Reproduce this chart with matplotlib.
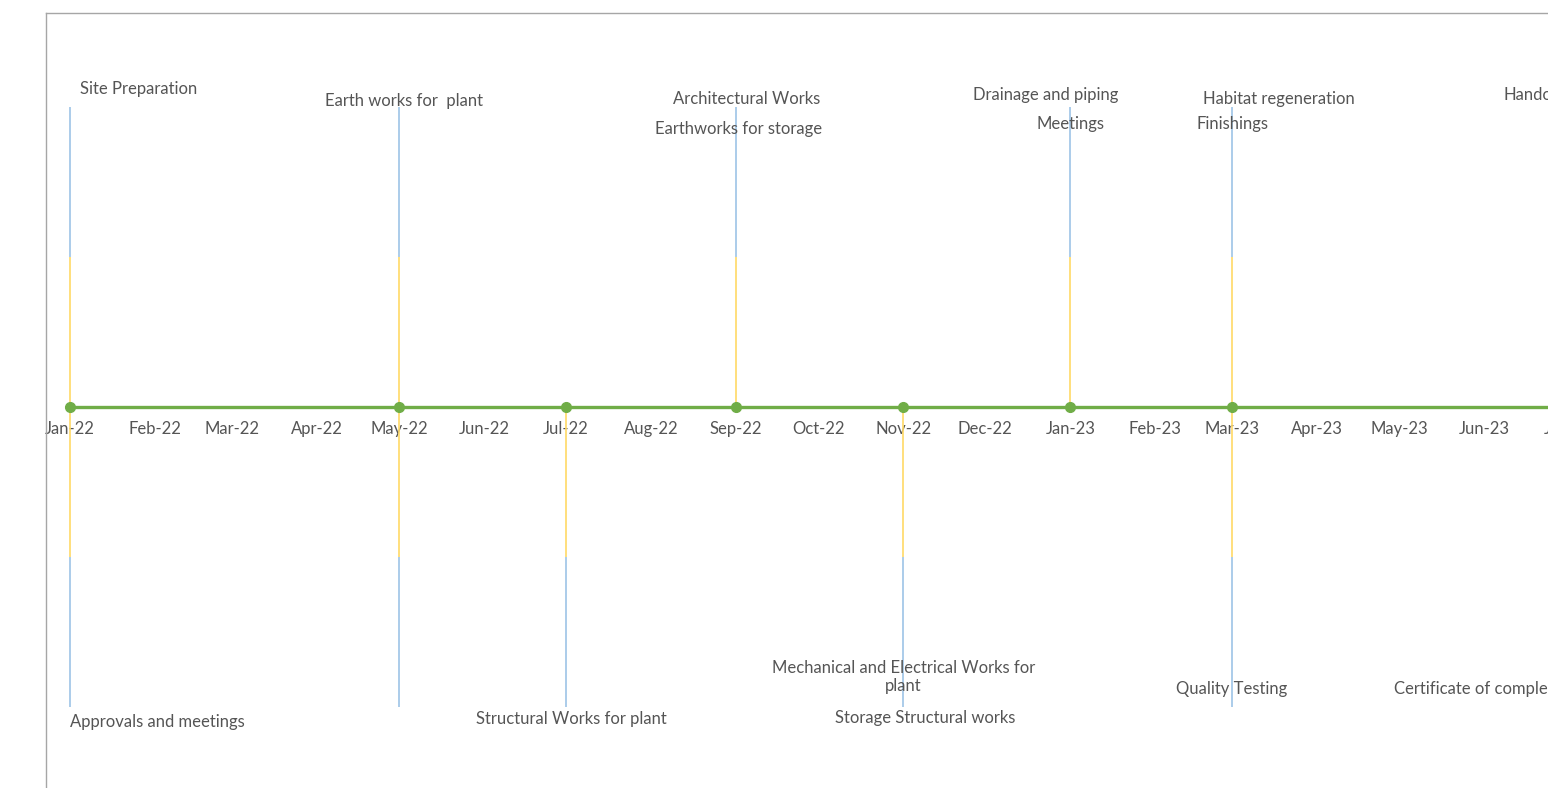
import datetime as dt
import matplotlib
matplotlib.use('Agg')
import matplotlib.pyplot as plt
import matplotlib.dates as mdates
from matplotlib.lines import Line2D

# milestones on the timeline (green dots)
milestones = ['2022-01-01', '2022-05-01', '2022-07-01', '2022-09-01',
              '2022-11-01', '2023-01-01', '2023-03-01']
# stems drawn above / below the axis
up_stems = ['2022-01-01', '2022-05-01', '2022-09-01', '2023-01-01', '2023-03-01']
down_stems = ['2022-01-01', '2022-05-01', '2022-07-01', '2022-11-01', '2023-03-01']
stem_height = 1.0

# month ticks Jan-22 .. Jul-23
months = [dt.datetime(2022 + (m // 12), m % 12 + 1, 1) for m in range(19)]

# activity labels: text, anchor date, height, alignment
labels = ['Site Preparation', 'Earth works for  plant', 'Architectural Works',
          'Earthworks for storage', 'Drainage and piping', 'Meetings',
          'Habitat regeneration', 'Finishings', 'Handover',
          'Approvals and meetings', 'Structural Works for plant',
          'Mechanical and Electrical Works for\nplant', 'Storage Structural works',
          'Quality Testing', 'Certificate of completion']
label_dates = ['2022-01-26', '2022-05-03', '2022-09-05', '2022-09-02',
               '2022-12-23', '2023-01-01', '2023-03-18', '2023-03-01',
               '2023-06-08', '2022-02-02', '2022-07-03', '2022-11-01',
               '2022-11-09', '2023-03-01', '2023-04-29']
label_heights = [1.06, 1.02, 1.027, 0.927, 1.04, 0.943, 1.027, 0.943, 1.04,
                 -1.05, -1.04, -0.9, -1.037, -0.94, -0.94]
label_align = ['center'] * 8 + ['left'] + ['center'] * 5 + ['left']


def d(s):
    return mdates.date2num(dt.datetime.strptime(s, '%Y-%m-%d'))


W, H = 1548, 788
px_per_day = 2.7406
x0 = 70      # pixel of Jan-22
y0 = 407     # pixel of the axis line
unit = 300.0 # pixels per y unit
wide = 1.1   # plot area runs past the right edge (cropped chart)

plt.rcParams['font.family'] = ['Lato', 'DejaVu Sans']
fig = plt.figure(figsize=(W / 100, H / 100), dpi=100)
ax = fig.add_axes([0, 0, wide, 1])

start = d('2022-01-01')
xmin = start - x0 / px_per_day
xmax = start + (W * wide - x0) / px_per_day

yellow = '#FFD966'
blue = '#9DC3E6'
green = '#70AD47'
txt = '#555555'

for s in up_stems:
    ax.vlines(d(s), 0, stem_height / 2, color=yellow, lw=1.2, zorder=2)
    ax.vlines(d(s), stem_height / 2, stem_height, color=blue, lw=1.2, zorder=2)
for s in down_stems:
    ax.vlines(d(s), -stem_height / 2, 0, color=yellow, lw=1.2, zorder=2)
    ax.vlines(d(s), -stem_height, -stem_height / 2, color=blue, lw=1.2, zorder=2)

# main axis line
ax.plot([start, xmax], [0, 0], color=green, lw=2.4, zorder=3)
ax.plot([d(m) for m in milestones], [0] * len(milestones), 'o',
        color=green, ms=7, zorder=4)

for t, ld, h, ha in zip(labels, label_dates, label_heights, label_align):
    ax.text(d(ld), h, t, ha=ha, va='center', fontsize=12, color=txt,
            linespacing=1.2, zorder=5)

# month labels via the axis
ax.spines['bottom'].set_position(('data', 0))
for sp in ax.spines.values():
    sp.set_visible(False)
ax.set_xticks(mdates.date2num(months))
ax.xaxis.set_major_formatter(mdates.DateFormatter('%b-%y'))
ax.tick_params(axis='x', length=0, pad=10, labelsize=12, labelcolor=txt)
ax.set_yticks([])
ax.patch.set_alpha(0)

# limits last so the ticks don't widen them
ax.set_xlim(xmin, xmax)
ax.set_ylim((y0 - H) / unit, y0 / unit)

# chart frame
fx = 46 / W
fy = 1 - 13 / H
fig.add_artist(Line2D([fx, fx], [0, fy], color='#A6A6A6', lw=1.0))
fig.add_artist(Line2D([fx, 1], [fy, fy], color='#A6A6A6', lw=1.0))

fig.savefig('out.png', dpi=100)
